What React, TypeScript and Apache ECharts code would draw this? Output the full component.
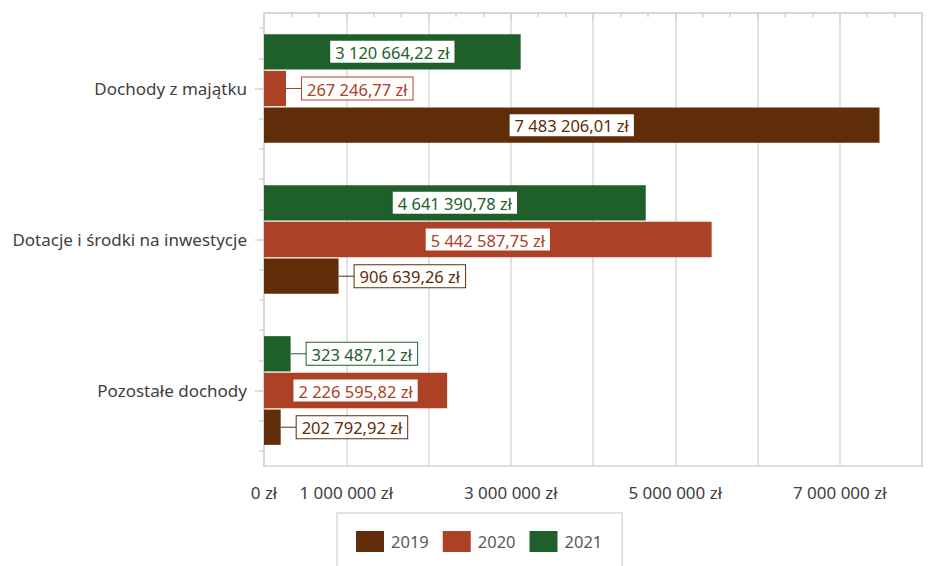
import React, { useEffect, useRef } from 'react';
import * as echarts from 'echarts';

const categories = ['Dochody z majątku', 'Dotacje i środki na inwestycje', 'Pozostałe dochody'];
const years = ['2019', '2020', '2021'];
const values2019 = [7483206.01, 906639.26, 202792.92];
const values2020 = [267246.77, 5442587.75, 2226595.82];
const values2021 = [3120664.22, 4641390.78, 323487.12];
const colors = ['#5f2d07', '#ad4126', '#1e5f2a'];
const xTickLabels = ['0 zł', '1 000 000 zł', '', '3 000 000 zł', '', '5 000 000 zł', '', '7 000 000 zł', ''];

const FONT = '"Noto Sans", "DejaVu Sans", sans-serif';
const AXIS_GRAY = '#d4d4d4';

function formatPLN(v: number): string {
  const [i, d] = v.toFixed(2).split('.');
  return i.replace(/\B(?=(\d{3})+(?!\d))/g, ' ') + ',' + d + ' zł';
}

export default function App() {
  const ref = useRef<HTMLDivElement>(null);

  useEffect(() => {
    if (!ref.current) return;
    const chart = echarts.init(ref.current, undefined, { renderer: 'svg' });

    const seriesDefs = [
      { name: years[2], values: values2021, color: colors[2] },
      { name: years[1], values: values2020, color: colors[1] },
      { name: years[0], values: values2019, color: colors[0] },
    ];

    const series = seriesDefs.map((s) => ({
      type: 'bar',
      name: s.name,
      barGap: '4%',
      barCategoryGap: '28%',
      itemStyle: { color: s.color },
      data: s.values.map((v) => {
        const outside = v < 1000000;
        return {
          value: v,
          label: {
            show: true,
            position: outside ? 'right' : 'inside',
            distance: 0,
            formatter: outside ? '{l|}{b|' + formatPLN(v) + '}' : '{b|' + formatPLN(v) + '}',
            rich: {
              l: { width: 16, height: 1, backgroundColor: s.color },
              b: {
                color: s.color,
                fontSize: 16.5,
                fontFamily: FONT,
                backgroundColor: '#ffffff',
                borderColor: s.color,
                borderWidth: 1,
                padding: [3, 5, 2, 5],
                lineHeight: 18,
              },
            },
          },
        };
      }),
    }));

    const minorTickValues = Array.from({ length: categories.length * 5 }, (_, i) => i + 0.5);

    chart.setOption({
      animation: false,
      backgroundColor: '#ffffff',
      textStyle: { fontFamily: FONT },
      grid: {
        left: 264,
        right: 11,
        top: 13,
        bottom: 100,
        containLabel: false,
        outerBoundsMode: 'none',
        show: true,
        borderColor: AXIS_GRAY,
        borderWidth: 1.5,
      },
      legend: {
        data: years,
        left: 337,
        top: 513,
        orient: 'horizontal',
        icon: 'rect',
        itemWidth: 28,
        itemHeight: 21,
        itemGap: 14,
        padding: [18, 20, 30, 19],
        borderColor: '#d9d9d9',
        borderWidth: 1.5,
        textStyle: { fontSize: 16.5, color: '#595959', fontFamily: FONT, padding: [0, 0, 0, 2] },
      },
      xAxis: {
        type: 'value',
        min: 0,
        max: 8000000,
        interval: 1000000,
        axisLine: { show: true, lineStyle: { color: AXIS_GRAY, width: 1.5 } },
        axisTick: { show: true, length: 8, lineStyle: { color: AXIS_GRAY, width: 1.5 } },
        minorTick: { show: true, splitNumber: 3, length: 4, lineStyle: { color: AXIS_GRAY, width: 1.5 } },
        splitLine: { show: true, lineStyle: { color: '#d9d9d9', width: 1.5 } },
        axisLabel: {
          margin: 18,
          fontSize: 17,
          color: '#404040',
          fontFamily: FONT,
          formatter: (val: number) => xTickLabels[Math.round(val / 1000000)] ?? '',
        },
      },
      yAxis: [
        {
          type: 'category',
          data: categories,
          inverse: true,
          axisLine: { show: true, lineStyle: { color: AXIS_GRAY, width: 1.5 } },
          axisTick: { show: true, alignWithLabel: true, length: 9, lineStyle: { color: AXIS_GRAY, width: 1.5 } },
          axisLabel: { margin: 17, fontSize: 17, color: '#404040', fontFamily: FONT },
          splitLine: { show: false },
        },
        {
          type: 'value',
          position: 'left',
          min: 0,
          max: categories.length * 5,
          inverse: true,
          axisLine: { show: false },
          axisLabel: { show: false },
          splitLine: { show: false },
          axisTick: { show: true, length: 5, customValues: minorTickValues, lineStyle: { color: AXIS_GRAY, width: 1.5 } },
        },
      ],
      series,
    });

    return () => chart.dispose();
  }, []);

  return (
    <div
      ref={ref}
      style={{ position: 'absolute', left: 0, top: 0, width: 933, height: 566, background: '#ffffff' }}
    />
  );
}
